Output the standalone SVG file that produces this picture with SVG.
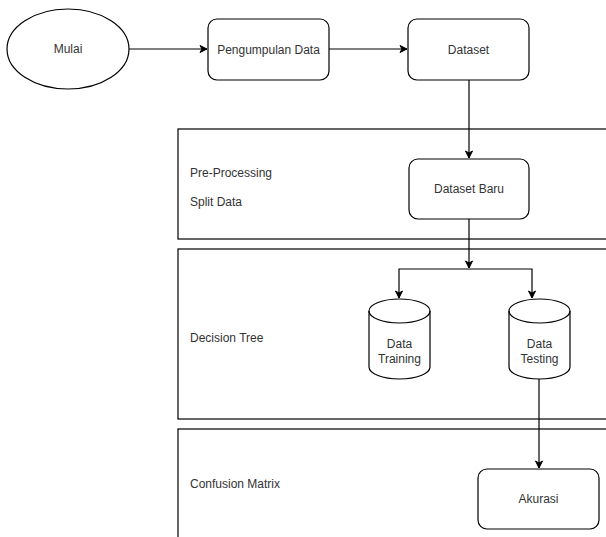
<svg xmlns="http://www.w3.org/2000/svg" width="606" height="537" viewBox="0 0 606 537">
<defs>
<marker id="arr" markerWidth="10" markerHeight="10" refX="8" refY="5" orient="auto" markerUnits="userSpaceOnUse">
<path d="M1,1.5 L8,5 L1,8.5 L3,5 Z" fill="#000" stroke="#000" stroke-width="1"/>
</marker>
</defs>
<style>
.shape{fill:#fff;stroke:#000;stroke-width:1.2}
.cont{fill:#fff;stroke:#000;stroke-width:1.2}
.lbl{font-family:"Liberation Sans",Arial,sans-serif;font-size:12px;fill:#333}
.mid{text-anchor:middle;dominant-baseline:central}
.left{dominant-baseline:central}
.edge{fill:none;stroke:#000;stroke-width:1.2}
</style>
<rect width="606" height="537" fill="#fff"/>
<g id="container-preprocessing">
<rect class="cont" x="178" y="129" width="440" height="110"/>
<text class="lbl left" x="190" y="173">Pre-Processing</text>
<text class="lbl left" x="190" y="202">Split Data</text>
</g>
<g id="container-decision-tree">
<rect class="cont" x="178" y="249" width="440" height="170"/>
<text class="lbl left" x="190" y="338">Decision Tree</text>
</g>
<g id="container-confusion-matrix">
<rect class="cont" x="178" y="429" width="440" height="130"/>
<text class="lbl left" x="190" y="484">Confusion Matrix</text>
</g>
<g id="mulai">
<ellipse class="shape" cx="68" cy="49" rx="61" ry="40"/>
<text class="lbl mid" x="68" y="49">Mulai</text>
</g>
<g id="pengumpulan-data">
<rect class="shape" x="208" y="19" width="121" height="61" rx="9"/>
<text class="lbl mid" x="268.5" y="49.5">Pengumpulan Data</text>
</g>
<g id="dataset">
<rect class="shape" x="408" y="19" width="121" height="61" rx="9"/>
<text class="lbl mid" x="468.5" y="49.5">Dataset</text>
</g>
<g id="dataset-baru">
<rect class="shape" x="409" y="159" width="120" height="60" rx="9"/>
<text class="lbl mid" x="469" y="189">Dataset Baru</text>
</g>
<g id="data-training">
<path class="shape" d="M369,311 A30.5,12 0 0 1 430,311 L430,367 A30.5,12 0 0 1 369,367 Z"/>
<path class="edge" d="M369,311 A30.5,12 0 0 0 430,311"/>
<text class="lbl mid" x="399.5" y="344">Data</text>
<text class="lbl mid" x="399.5" y="359">Training</text>
</g>
<g id="data-testing">
<path class="shape" d="M509,311 A30.5,12 0 0 1 570,311 L570,367 A30.5,12 0 0 1 509,367 Z"/>
<path class="edge" d="M509,311 A30.5,12 0 0 0 570,311"/>
<text class="lbl mid" x="539.5" y="344">Data</text>
<text class="lbl mid" x="539.5" y="359">Testing</text>
</g>
<g id="akurasi">
<rect class="shape" x="478" y="469" width="121" height="60" rx="9"/>
<text class="lbl mid" x="538.5" y="499">Akurasi</text>
</g>
<g id="connectors">
<path class="edge" d="M129,49 L207,49" marker-end="url(#arr)"/>
<path class="edge" d="M329,49 L407,49" marker-end="url(#arr)"/>
<path class="edge" d="M469,80 L469,158" marker-end="url(#arr)"/>
<path class="edge" d="M469,219 L469,268" marker-end="url(#arr)"/>
<path class="edge" d="M469,269 L399,269 L399,298" marker-end="url(#arr)"/>
<path class="edge" d="M469,269 L532,269 L532,298" marker-end="url(#arr)"/>
<path class="edge" d="M539,379 L539,468" marker-end="url(#arr)"/>
</g>
</svg>
